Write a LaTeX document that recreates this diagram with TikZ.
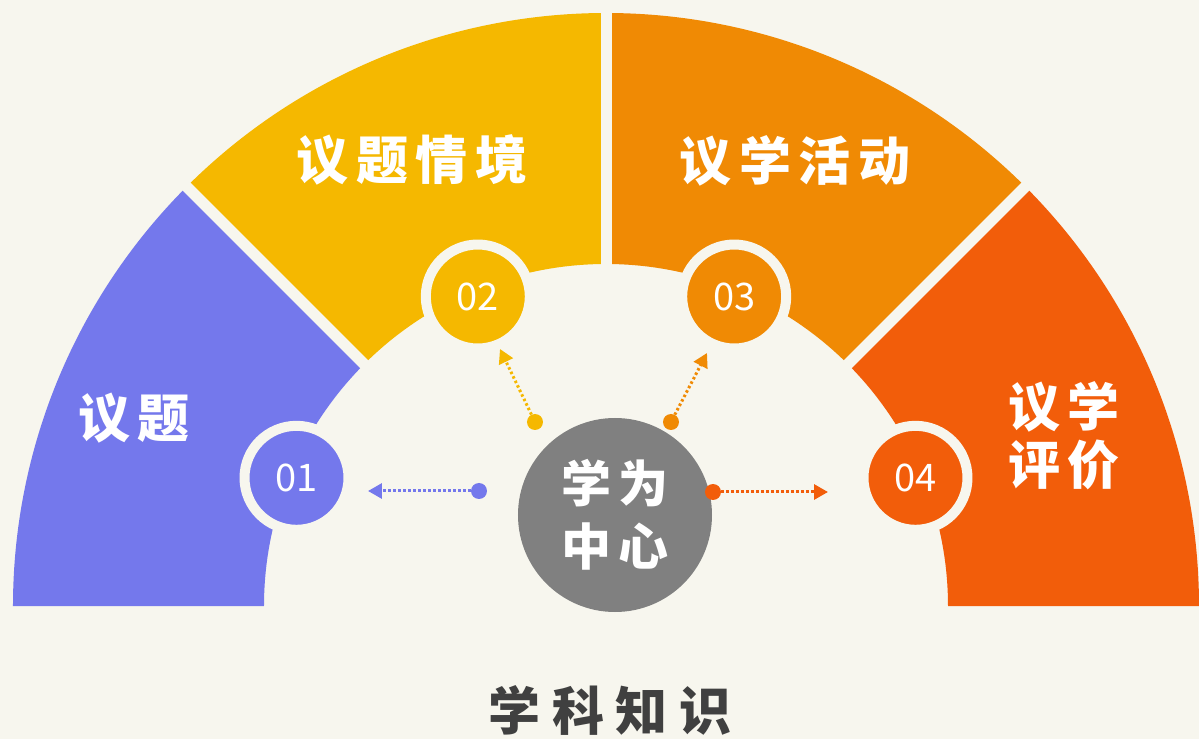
\documentclass[tikz,border=0pt]{standalone}
\usepackage{fontspec}
\setmainfont{Noto Sans CJK SC}
\newfontfamily\spaced[LetterSpace=15]{Noto Sans CJK SC}
\newfontfamily\wide[LetterSpace=22]{Noto Sans CJK SC}
\usetikzlibrary{arrows.meta,positioning}
\definecolor{bgcream}{HTML}{F7F6EE}
\definecolor{cone}{HTML}{7478EC}
\definecolor{ctwo}{HTML}{F5B800}
\definecolor{cthree}{HTML}{F08A04}
\definecolor{cfour}{HTML}{F25D0A}
\definecolor{hubgray}{HTML}{808080}
\definecolor{darktext}{HTML}{404040}

\begin{document}
\begin{tikzpicture}[x=1pt,y=1pt,
  numcirc/.style={circle,fill=#1,draw=bgcream,line width=10pt,minimum size=104pt,inner sep=0pt,
    text=white,font=\fontsize{38}{38}\selectfont},
  dot/.style={circle,fill=#1,minimum size=16pt,inner sep=0pt},
  link/.style={#1,line width=3pt,dash pattern=on 2.5pt off 2.5pt,-{Triangle[length=14pt,width=15pt]}},
  title/.style={text=white,align=center,font=\spaced\bfseries\fontsize{52}{58}\selectfont}]
\fill[bgcream] (-606,-133) rectangle (593,606);
\useasboundingbox (-606,-133) rectangle (593,606);
% ring sectors
\foreach \a/\c in {180/cone,135/ctwo,90/cthree,45/cfour}
  \fill[\c] (\a:593pt) arc[start angle=\a,end angle=\a-45,radius=593pt]
    -- (\a-45:342pt) arc[start angle=\a-45,end angle=\a,radius=342pt] -- cycle;
\foreach \a in {45,90,135}
  \draw[bgcream,line width=11pt] (\a:330pt) -- (\a:610pt);
% labels
\node[title] (lab1) at (-472,188) {议题};
\node[title] (lab2) at (-194,446) {议题情境};
\node[title] (lab3) at (189,445) {议学活动};
\node[title] (lab4) at (458,170) {议学\\评价};
% numbered circles
\node[numcirc=cone] (n1) at (157.5:335pt) {01};
\node[numcirc=ctwo] (n2) at (112.5:335pt) {02};
\node[numcirc=cthree] (n3) at (67.5:335pt) {03};
\node[numcirc=cfour] (n4) at (22.5:335pt) {04};
% hub
\node[circle,fill=hubgray,minimum size=194pt,inner sep=0pt,text=white,align=center,
  font=\spaced\bfseries\fontsize{50}{63}\selectfont] (hub) at (9,91) {学为\\中心};
% dots and arrows
\node[dot=cone] (d1) at (-127,115) {};
\node[dot=ctwo] (d2) at (-71,184) {};
\node[dot=cthree] (d3) at (65,184) {};
\node[dot=cfour] (d4) at (107,114) {};
\coordinate (a1) at (-238,115);
\coordinate (a2) at (-106,257);
\coordinate (a3) at (101,253);
\coordinate (a4) at (222,114);
\draw[link=cone] (d1) -- (a1);
\draw[link=ctwo] (d2) -- (a2);
\draw[link=cthree] (d3) -- (a3);
\draw[link=cfour] (d4) -- (a4);
\node[text=darktext,font=\wide\bfseries\fontsize{52}{58}\selectfont] (base) at (4,-104) {学科知识};
\end{tikzpicture}
\end{document}
